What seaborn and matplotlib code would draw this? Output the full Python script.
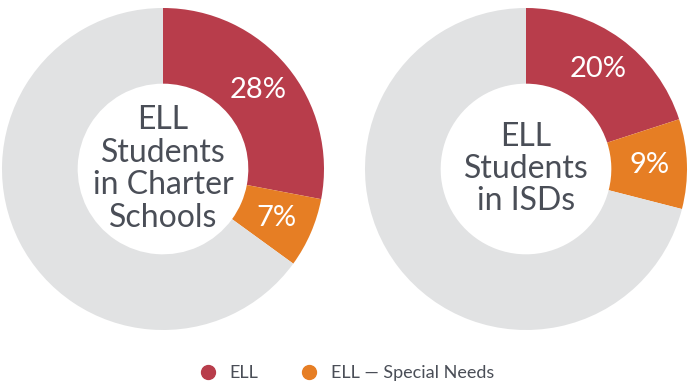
import matplotlib
matplotlib.use("Agg")
import matplotlib.pyplot as plt
from matplotlib.lines import Line2D
import seaborn as sns

# Data
categories = ["ELL", "ELL \u2014 Special Needs", "Other"]
charter_values = [28, 7, 65]
isd_values = [20, 9, 71]
charter_labels = ["28%", "7%", ""]
isd_labels = ["20%", "9%", ""]
center_titles = ["ELL\nStudents\nin Charter\nSchools", "ELL\nStudents\nin ISDs"]
legend_labels = ["ELL", "ELL \u2014 Special Needs"]

colors = ["#B83D4B", "#E67E24", "#E1E2E3"]
text_color = "#4A4E57"

sns.set_theme(style="white")
plt.rcParams["font.family"] = ["Lato", "DejaVu Sans"]

fig = plt.figure(figsize=(6.97, 3.91), dpi=100)
axes_rects = [
    [2 / 697, 61 / 391, 322 / 697, 322 / 391],
    [365 / 697, 61 / 391, 322 / 697, 322 / 391],
]

for rect, vals, labs, title in zip(axes_rects, [charter_values, isd_values],
                                   [charter_labels, isd_labels], center_titles):
    ax = fig.add_axes(rect)
    wedges, texts = ax.pie(
        vals, colors=colors, startangle=90, counterclock=False,
        radius=1.0, wedgeprops=dict(width=0.47, linewidth=0),
        labels=labs, labeldistance=0.765,
        textprops=dict(color="white", fontsize=21, fontweight="normal",
                       ha="center", va="center"),
    )
    for t in texts:
        t.set_horizontalalignment("center")
        t.set_verticalalignment("center")
    ax.text(0, 0, title, ha="center", va="center", fontsize=23,
            color=text_color, fontweight="normal", linespacing=1.1)
    ax.set_xlim(-1, 1)
    ax.set_ylim(-1, 1)
    ax.set_aspect("equal")
    ax.axis("off")

handles = [Line2D([0], [0], marker="o", linestyle="", markersize=10,
                  markerfacecolor=c, markeredgecolor=c) for c in colors[:2]]
leg = fig.legend(handles, legend_labels, loc="center", ncol=2,
                 bbox_to_anchor=(0.497, 18 / 391), frameon=False,
                 fontsize=13, handlelength=1.0, handletextpad=0.7,
                 columnspacing=2.3, labelcolor=text_color)

fig.savefig("out.png", dpi=100)
